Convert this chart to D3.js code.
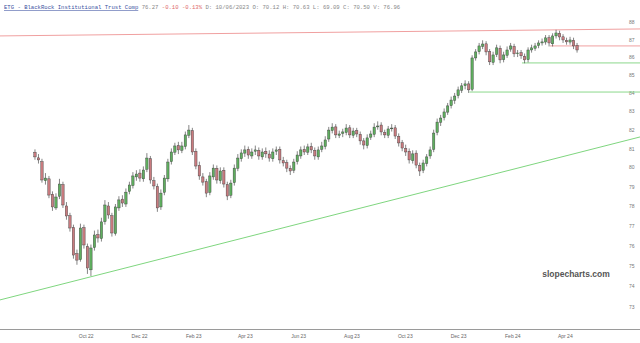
<!DOCTYPE html>
<html><head><meta charset="utf-8">
<script src="https://cdn.jsdelivr.net/npm/d3@7/dist/d3.min.js"></script>
<style>html,body{margin:0;padding:0;background:#fff;}svg{display:block;}</style>
</head><body>
<script>
// ---- data ----
const startDate = "2022-08-04";   // first candle; one candle per 4 calendar days
const stepDays = 4;
const opens = [80.80,80.50,80.30,79.30,79.40,78.60,77.90,78.50,79.10,78.00,
77.50,76.90,75.60,75.30,76.90,75.95,74.80,75.90,76.55,76.35,
77.20,78.00,77.50,76.60,77.90,78.35,78.10,78.75,79.05,79.50,
79.70,79.40,79.90,80.45,79.30,79.00,77.95,78.70,79.40,80.30,
80.80,81.15,80.90,81.10,81.70,81.95,80.85,80.10,79.50,79.25,
78.70,79.50,79.95,79.30,79.85,79.10,78.55,79.20,79.95,80.45,
80.75,80.95,80.60,80.85,80.90,80.55,80.85,80.70,80.45,80.85,
80.95,80.35,80.25,79.95,79.85,80.30,80.60,80.95,80.80,81.10,
80.90,80.55,80.95,81.10,81.50,81.95,82.15,81.70,81.80,81.85,
82.10,81.70,81.95,81.75,81.40,81.15,81.60,81.75,82.15,82.25,
81.85,81.70,82.05,82.10,81.65,81.30,81.00,80.85,80.35,80.75,
80.10,79.85,80.20,80.60,80.95,81.85,82.40,82.65,82.95,83.30,
83.60,83.85,84.15,84.40,84.50,84.20,85.95,86.30,86.60,86.75,
86.30,85.70,86.15,86.50,85.85,86.10,86.45,86.60,86.20,86.25,
86.05,85.85,86.40,86.50,86.65,86.80,86.85,87.10,86.75,87.20,
87.35,87.15,86.95,86.85,86.95,86.65];
const highs = [80.95,80.70,80.45,79.70,79.55,78.75,78.65,79.40,79.25,78.20,
77.65,77.05,75.80,77.10,77.05,76.10,76.05,76.75,76.80,77.40,
78.30,78.20,77.65,78.10,78.50,78.55,78.90,79.25,79.75,79.85,
79.90,80.05,80.75,80.60,79.50,79.15,78.85,79.60,80.45,81.00,
81.30,81.35,81.35,81.90,82.25,82.10,81.00,80.30,79.70,79.40,
79.75,80.15,80.10,80.00,80.00,79.25,79.35,80.15,80.70,80.95,
81.15,81.10,81.00,81.15,81.05,81.00,81.05,80.90,81.00,81.10,
81.10,80.55,80.40,80.10,80.45,80.85,81.10,81.15,81.25,81.30,
81.05,81.10,81.35,81.65,82.15,82.35,82.30,81.95,82.05,82.30,
82.25,82.10,82.10,81.90,81.55,81.75,81.95,82.35,82.45,82.40,
82.00,82.20,82.30,82.25,81.80,81.45,81.20,81.00,80.90,80.90,
80.25,80.40,80.70,81.10,82.00,82.60,82.80,83.15,83.45,83.80,
84.00,84.35,84.55,84.70,84.65,86.10,86.45,86.80,86.95,86.90,
86.45,86.30,86.70,86.65,86.30,86.60,86.80,86.75,86.40,86.40,
86.20,86.55,86.70,86.80,86.95,87.05,87.25,87.25,87.35,87.55,
87.50,87.30,87.10,87.15,87.10,86.80];
const lows = [80.40,80.20,79.20,79.10,78.40,77.75,77.80,78.35,77.90,77.30,
76.70,75.35,75.05,75.20,75.85,74.60,74.50,75.75,76.15,76.20,
77.05,77.35,76.45,76.50,77.75,77.95,77.95,78.60,78.90,79.30,
79.25,79.25,79.75,79.15,78.85,77.70,77.80,78.55,79.25,80.15,
80.65,80.70,80.75,80.95,81.55,80.65,79.90,79.35,79.05,78.45,
78.55,79.35,79.15,79.15,78.95,78.30,78.40,79.05,79.80,80.30,
80.55,80.45,80.45,80.65,80.40,80.40,80.50,80.30,80.30,80.65,
80.20,80.05,79.75,79.60,79.70,80.15,80.45,80.65,80.65,80.75,
80.40,80.40,80.80,80.95,81.35,81.80,81.55,81.55,81.60,81.70,
81.55,81.55,81.60,81.20,80.95,81.00,81.45,81.60,82.00,81.70,
81.55,81.55,81.90,81.50,81.10,80.85,80.60,80.20,80.20,79.95,
79.55,79.70,80.05,80.45,80.80,81.70,82.20,82.50,82.80,83.15,
83.40,83.70,84.00,84.20,84.00,84.10,85.80,86.15,86.45,86.10,
85.55,85.55,86.00,85.65,85.70,85.95,86.30,86.00,86.00,85.90,
85.65,85.70,86.25,86.35,86.50,86.65,86.70,86.60,86.60,87.05,
86.95,86.80,86.70,86.70,86.45,86.25];
const closes = [80.55,80.39,79.34,79.44,78.56,77.95,78.46,79.13,78.05,77.49,
76.88,75.53,75.28,76.88,76.03,74.89,75.88,76.53,76.38,77.19,
78.05,77.54,76.63,77.95,78.31,78.15,78.71,79.08,79.55,79.65,
79.44,79.86,80.49,79.34,79.03,77.90,78.66,79.44,80.28,80.81,
81.13,80.92,81.13,81.72,81.98,80.81,80.07,79.55,79.23,78.66,
79.55,79.96,79.34,79.81,79.13,78.51,79.18,79.96,80.49,80.76,
80.92,80.65,80.81,80.92,80.60,80.81,80.71,80.49,80.81,80.92,
80.39,80.23,79.96,79.81,80.28,80.65,80.92,80.81,81.08,80.92,
80.60,80.92,81.13,81.45,81.98,82.14,81.72,81.77,81.88,82.09,
81.72,81.93,81.77,81.40,81.18,81.56,81.77,82.14,82.20,81.88,
81.72,82.04,82.09,81.66,81.29,81.02,80.81,80.39,80.71,80.12,
79.81,80.23,80.55,80.92,81.82,82.41,82.63,82.96,83.29,83.61,
83.83,84.17,84.39,84.50,84.17,85.95,86.29,86.63,86.74,86.29,
85.73,86.12,86.52,85.84,86.12,86.40,86.63,86.18,86.23,86.07,
85.84,86.40,86.52,86.63,86.80,86.86,87.09,86.80,87.20,87.37,
87.14,86.97,86.86,86.97,86.63,86.40];
const priceTicks = [73,74,75,76,77,78,79,80,81,82,83,84,85,86,87,88];
const monthTicks = ["2022-10-01","2022-12-01","2023-02-01","2023-04-01","2023-06-01","2023-08-01","2023-10-01","2023-12-01","2024-02-01","2024-04-01"];
const monthLabels = ["Oct 22","Dec 22","Feb 23","Apr 23","Jun 23","Aug 23","Oct 23","Dec 23","Feb 24","Apr 24"];
// trend lines: [startDate, startPrice, endDate, endPrice]
const trendLines = [
  {d0:"2022-06-25", p0:73.34, d1:"2024-06-26", p1:81.61, color:"#7fd67f"},
  {d0:"2022-06-25", p0:87.20, d1:"2024-06-26", p1:87.60, color:"#f0a0a0"},
  {d0:"2024-03-15", p0:86.63, d1:"2024-06-26", p1:86.63, color:"#f0a0a0"},
  {d0:"2024-02-12", p0:85.67, d1:"2024-06-26", p1:85.67, color:"#8cd88c"},
  {d0:"2023-12-14", p0:84.05, d1:"2024-06-26", p1:84.05, color:"#8cd88c"}
];
const headerTicker = "ETG - BlackRock Institutional Trust Comp";
const headerLast = "76.27";
const headerChange = "-0.10  -0.13%";
const headerRest = "D: 10/06/2023  O: 70.12  H: 70.63  L: 69.09  C: 70.50  V: 76.96";

// ---- chart ----
const W = 640, H = 343;
const parse = d3.timeParse("%Y-%m-%d");
const t0 = parse(startDate);
const candles = closes.map((c, i) => ({
  date: d3.timeDay.offset(t0, i * stepDays), o: opens[i], h: highs[i], l: lows[i], c: c
}));

const x = d3.scaleTime().domain([parse("2022-06-25"), parse("2024-06-26")]).range([0, 640]);
const y = d3.scaleLog().domain([73, 88]).range([307, 22]);

const svg = d3.select("body").append("svg").attr("width", W).attr("height", H)
  .style("font-family", "'Liberation Sans', Arial, sans-serif");

svg.append("defs").append("clipPath").attr("id", "plot")
  .append("rect").attr("x", 0).attr("y", 14).attr("width", 640).attr("height", 314);

// right axis labels
const yAxis = d3.axisRight(y).tickValues(priceTicks).tickSize(0).tickPadding(0).tickFormat(d3.format("d"));
const ya = svg.append("g").attr("transform", "translate(629,0)").call(yAxis);
ya.select(".domain").remove();
ya.selectAll("text").attr("fill", "#777").style("font-size", "5px");

// bottom axis
const xAxis = d3.axisBottom(x).tickValues(monthTicks.map(parse)).tickSize(0).tickPadding(5)
  .tickFormat((d, i) => monthLabels[i]);
const xa = svg.append("g").attr("transform", "translate(0,329.5)").call(xAxis);
xa.select(".domain").remove();
xa.selectAll("text").attr("fill", "#666").style("font-size", "5px");
svg.append("line").attr("x1", 0).attr("x2", 640).attr("y1", 329.5).attr("y2", 329.5)
  .attr("stroke", "#9a9a9a").attr("stroke-width", 1);

const plot = svg.append("g").attr("clip-path", "url(#plot)");

// trend lines
plot.selectAll("line.trend").data(trendLines).join("line").attr("class", "trend")
  .attr("x1", d => x(parse(d.d0))).attr("y1", d => y(d.p0))
  .attr("x2", d => x(parse(d.d1))).attr("y2", d => y(d.p1))
  .attr("stroke", d => d.color).attr("stroke-width", 1);

// candles
const bw = 2.4;
const cg = plot.selectAll("g.c").data(candles).join("g").attr("class", "c");
cg.append("line")
  .attr("x1", d => x(d.date)).attr("x2", d => x(d.date))
  .attr("y1", d => y(d.h)).attr("y2", d => y(d.l))
  .attr("stroke", "#333").attr("stroke-width", 0.6);
cg.append("rect")
  .attr("x", d => x(d.date) - bw / 2).attr("width", bw)
  .attr("y", d => y(Math.max(d.o, d.c)))
  .attr("height", d => Math.max(0.8, Math.abs(y(d.o) - y(d.c))))
  .attr("fill", d => d.c >= d.o ? "#5fae5f" : "#c97b7f")
  .attr("stroke", "#3a3a3a").attr("stroke-width", 0.4);

// watermark
svg.append("text").attr("x", 576).attr("y", 277).attr("text-anchor", "middle")
  .style("font-size", "8.5px").style("font-weight", "bold").attr("fill", "#555")
  .text("slopecharts.com");

// header
const hdr = svg.append("text").attr("x", 4).attr("y", 9)
  .style("font-family", "'Liberation Mono', 'DejaVu Sans Mono', monospace").style("font-size", "5.6px");
hdr.append("tspan").attr("fill", "#3a4fa0").attr("text-decoration", "underline").text(headerTicker);
hdr.append("tspan").attr("fill", "#888").text(" " + headerLast + " ");
hdr.append("tspan").attr("fill", "#e06a6a").text(headerChange);
hdr.append("tspan").attr("fill", "#888").text(" " + headerRest);
</script>
</body></html>
